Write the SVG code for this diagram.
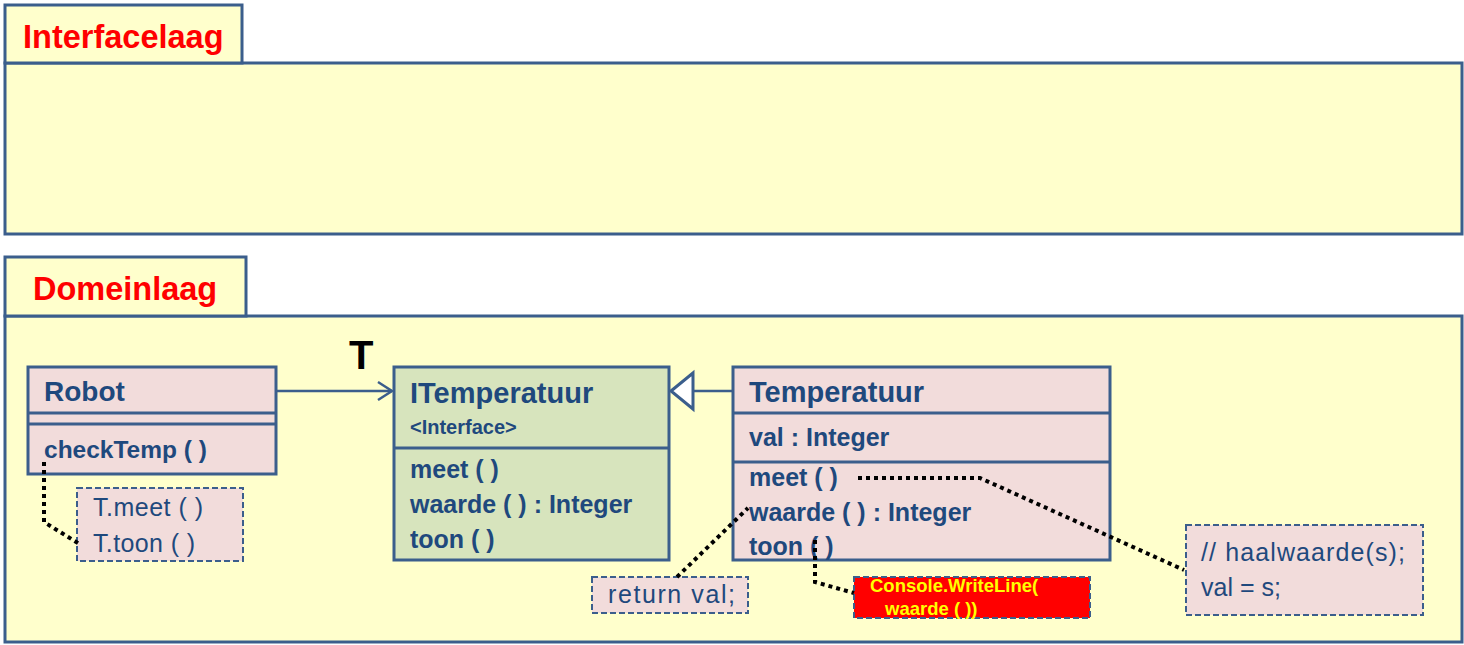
<svg xmlns="http://www.w3.org/2000/svg" width="1464" height="645" viewBox="0 0 1464 645">
<style>
.layer{fill:#FFFFCC;stroke:#3B5E8C;stroke-width:3}
.title{font-family:"Liberation Sans",Arial,sans-serif;font-weight:bold;fill:#FF0000;font-size:32.5px}
.cls{stroke:#3B5E8C;stroke-width:3}
.pink{fill:#F2DCDB}
.green{fill:#D7E4BD}
.b{font-family:"Liberation Sans",Arial,sans-serif;font-weight:bold;fill:#1F497D}
.r{font-family:"Liberation Sans",Arial,sans-serif;fill:#1F497D;font-size:25px}
.note{fill:#F2DCDB;stroke:#3B5E8C;stroke-width:2;stroke-dasharray:6 3}
.dot{fill:none;stroke:#000;stroke-width:4;stroke-dasharray:4 4}
.conn{fill:none;stroke:#3B5E8C;stroke-width:2.5}
</style>
<rect width="1464" height="645" fill="#fff"/>
<g id="interfacelaag">
<rect class="layer" x="5" y="63" width="1457" height="171"/>
<rect class="layer" x="5" y="5" width="237" height="58"/>
<text class="title" x="23" y="48">Interfacelaag</text>
</g>
<g id="domeinlaag">
<rect class="layer" x="5" y="316" width="1457" height="326"/>
<rect class="layer" x="5" y="257" width="241" height="59"/>
<text class="title" x="33" y="300" font-size="33.5">Domeinlaag</text>
</g>
<g id="robot">
<rect class="cls pink" x="28" y="367" width="248" height="107"/>
<line class="cls" x1="28" y1="413" x2="276" y2="413"/>
<line class="cls" x1="28" y1="424" x2="276" y2="424"/>
<text class="b" x="44" y="401" font-size="28">Robot</text>
<text class="b" x="44" y="458" font-size="24.5">checkTemp ( )</text>
</g>
<g id="robot-note">
<rect class="note" x="77" y="488" width="166" height="73"/>
<text class="r" x="93" y="516" textLength="110" lengthAdjust="spacing">T.meet ( )</text>
<text class="r" x="93" y="552" textLength="102" lengthAdjust="spacing">T.toon ( )</text>
</g>
<g id="itemperatuur">
<rect class="cls green" x="394" y="367" width="275" height="193"/>
<line class="cls" x1="394" y1="448" x2="669" y2="448"/>
<text class="b" x="410" y="403" font-size="29">ITemperatuur</text>
<text class="b" x="410" y="434" font-size="20">&lt;Interface&gt;</text>
<text class="b" x="410" y="478" font-size="25">meet ( )</text>
<text class="b" x="410" y="513" font-size="25">waarde ( ) : Integer</text>
<text class="b" x="410" y="548" font-size="25">toon ( )</text>
</g>
<g id="temperatuur">
<rect class="cls pink" x="733" y="367" width="377" height="193"/>
<line class="cls" x1="733" y1="413" x2="1110" y2="413"/>
<line class="cls" x1="733" y1="462" x2="1110" y2="462"/>
<text class="b" x="749" y="402" font-size="29">Temperatuur</text>
<text class="b" x="749" y="446" font-size="25">val : Integer</text>
<text class="b" x="749" y="486" font-size="25">meet ( )</text>
<text class="b" x="749" y="521" font-size="25">waarde ( ) : Integer</text>
<text class="b" x="749" y="555" font-size="25">toon ( )</text>
</g>
<g id="return-note">
<rect class="note" x="592" y="577" width="156" height="36"/>
<text class="r" x="608" y="603" textLength="127" lengthAdjust="spacing">return val;</text>
</g>
<g id="console-note">
<rect x="854" y="577" width="236" height="41" fill="#FF0000" stroke="#3B5E8C" stroke-width="2" stroke-dasharray="6 3"/>
<text x="870" y="592" font-family="Liberation Sans,Arial,sans-serif" font-weight="bold" font-size="18.5" fill="#FFFF00">Console.WriteLine(</text>
<text x="885" y="615" font-family="Liberation Sans,Arial,sans-serif" font-weight="bold" font-size="18.5" fill="#FFFF00">waarde ( ))</text>
</g>
<g id="haalwaarde-note">
<rect class="note" x="1186" y="525" width="237" height="90"/>
<text class="r" x="1201" y="561" textLength="204" lengthAdjust="spacing">// haalwaarde(s);</text>
<text class="r" x="1201" y="596" textLength="80" lengthAdjust="spacing">val = s;</text>
</g>
<g id="connectors">
<line class="conn" x1="276" y1="391" x2="392" y2="391"/>
<polyline class="conn" points="378,382 392,391 378,400"/>
<line class="conn" x1="693" y1="391" x2="733" y2="391"/>
<polygon points="671,391 693,373 693,409" fill="#fff" stroke="#3B5E8C" stroke-width="3"/>
<text x="349" y="369" font-family="Liberation Sans,Arial,sans-serif" font-weight="bold" font-size="40" fill="#000">T</text>
<polyline class="dot" points="44,462 44,522 81,545"/>
<polyline class="dot" points="677,577 748,508"/>
<polyline class="dot" points="815,540 815,582 854,593"/>
<polyline class="dot" points="858,478 980,478 1184,570"/>
</g>
</svg>
